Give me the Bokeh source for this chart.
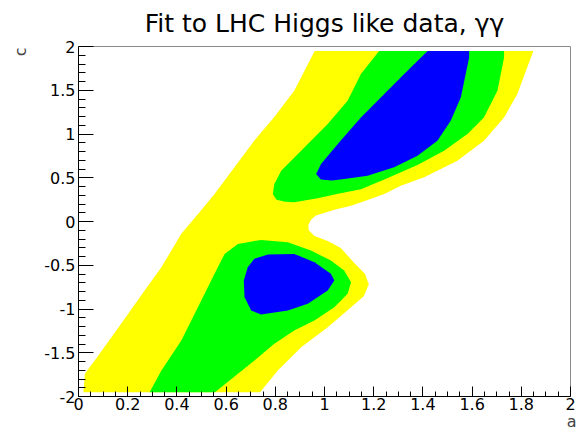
from bokeh.plotting import figure
from bokeh.models import Range1d, Title, FixedTicker
from bokeh.embed import file_html
from bokeh.resources import INLINE

# ---- data (a, c) ----
title_text = "Fit to LHC Higgs like data, \u03b3\u03b3"
x_title = "a"
y_title = "c"

x_ticks = [0.0, 0.2, 0.4, 0.6, 0.8, 1.0, 1.2, 1.4, 1.6, 1.8, 2.0]
x_tick_labels = ["0", "0.2", "0.4", "0.6", "0.8", "1", "1.2", "1.4", "1.6", "1.8", "2"]
y_ticks = [-2.0, -1.5, -1.0, -0.5, 0.0, 0.5, 1.0, 1.5, 2.0]
y_tick_labels = ["-2", "-1.5", "-1", "-0.5", "0", "0.5", "1", "1.5", "2"]

# outer (3 sigma) region - yellow
yellow_a = [0.96, 0.877, 0.796, 0.715, 0.634, 0.553, 0.486, 0.418, 0.337, 0.269, 0.202, 0.134, 0.066, 0.026, 0.02,
            0.738, 0.810, 0.905, 1.013, 1.108, 1.16, 1.18, 1.165, 1.12, 1.065, 1.013, 0.959, 0.936, 0.934,
            0.945, 0.965, 1.04, 1.108, 1.175, 1.243, 1.31, 1.405, 1.540, 1.648, 1.730, 1.784, 1.824, 1.849]
yellow_c = [1.95, 1.494, 1.193, 0.927, 0.619, 0.315, 0.087, -0.141, -0.523, -0.789, -1.055, -1.322, -1.588, -1.74, -1.95,
            -1.95, -1.702, -1.436, -1.208, -0.979, -0.85, -0.72, -0.60, -0.47, -0.30, -0.222, -0.165, -0.10, -0.04,
            0.02, 0.07, 0.135, 0.18, 0.245, 0.315, 0.41, 0.505, 0.695, 0.924, 1.189, 1.457, 1.760, 1.95]

# 2 sigma regions - green
green_up_a = [1.222, 1.148, 1.094, 1.013, 0.905, 0.824, 0.796, 0.790, 0.805, 0.84, 0.877, 0.972, 1.06, 1.148,
              1.243, 1.378, 1.486, 1.581, 1.648, 1.703, 1.730, 1.730]
green_up_c = [1.95, 1.685, 1.380, 1.114, 0.809, 0.581, 0.429, 0.315, 0.25, 0.225, 0.219, 0.265, 0.32, 0.37,
              0.48, 0.645, 0.809, 1.0, 1.189, 1.494, 1.874, 1.95]
green_lo_a = [0.289, 0.337, 0.418, 0.499, 0.553, 0.594, 0.648, 0.742, 0.851, 0.945, 1.026, 1.080, 1.108, 1.094,
              1.040, 0.959, 0.877, 0.796, 0.715, 0.648, 0.580, 0.555]
green_lo_c = [-1.95, -1.702, -1.360, -0.903, -0.598, -0.370, -0.256, -0.210, -0.237, -0.332, -0.446, -0.561, -0.694,
              -0.827, -0.979, -1.131, -1.245, -1.397, -1.588, -1.740, -1.893, -1.95]

# 1 sigma regions - blue
blue_up_a = [1.419, 1.324, 1.243, 1.148, 1.054, 0.986, 0.966, 0.985, 1.03, 1.080, 1.175, 1.283, 1.378, 1.459,
             1.513, 1.554, 1.574, 1.588, 1.588]
blue_up_c = [1.95, 1.685, 1.457, 1.189, 0.886, 0.658, 0.543, 0.48, 0.47, 0.486, 0.524, 0.619, 0.752, 0.924,
             1.152, 1.418, 1.685, 1.874, 1.95]
blue_lo_a = [0.715, 0.770, 0.877, 0.959, 1.026, 1.040, 1.013, 0.932, 0.851, 0.742, 0.702, 0.675, 0.672, 0.688]
blue_lo_c = [-0.427, -0.378, -0.370, -0.466, -0.598, -0.675, -0.789, -0.941, -1.017, -1.063, -1.017, -0.865,
             -0.675, -0.523]

FONT = "DejaVu Sans"

p = figure(width=578, height=436, output_backend="svg", toolbar_location=None,
           x_range=Range1d(0, 2), y_range=Range1d(-2, 2),
           min_border_left=77, min_border_right=8, min_border_top=46, min_border_bottom=40)
p.background_fill_color = "white"
p.border_fill_color = "white"
p.outline_line_color = "#8a8a8a"
p.xgrid.visible = False
p.ygrid.visible = False

p.patches(xs=[yellow_a], ys=[yellow_c], fill_color="#ffff00", line_color=None)
p.patches(xs=[green_up_a, green_lo_a], ys=[green_up_c, green_lo_c], fill_color="#00ff00", line_color=None)
p.patches(xs=[blue_up_a, blue_lo_a], ys=[blue_up_c, blue_lo_c], fill_color="#0000ff", line_color=None)

x_minor = [round(i * 0.05, 2) for i in range(41) if i % 4 != 0]
y_minor = [round(-2 + i * 0.1, 1) for i in range(41) if i % 5 != 0]

p.xaxis.ticker = FixedTicker(ticks=x_ticks, minor_ticks=x_minor)
p.yaxis.ticker = FixedTicker(ticks=y_ticks, minor_ticks=y_minor)
p.xaxis.major_label_overrides = {t: s for t, s in zip(x_ticks, x_tick_labels)}
p.yaxis.major_label_overrides = {t: s for t, s in zip(y_ticks, y_tick_labels)}

for ax in (p.xaxis[0], p.yaxis[0]):
    ax.axis_line_color = "black"
    ax.major_tick_line_color = "black"
    ax.minor_tick_line_color = "black"
    ax.major_tick_out = 0
    ax.minor_tick_out = 0
    ax.major_label_text_font = FONT
    ax.major_label_text_font_size = "16px"
    ax.major_label_text_color = "black"

p.xaxis.major_tick_in = 10
p.xaxis.minor_tick_in = 5
p.yaxis.major_tick_in = 15
p.yaxis.minor_tick_in = 7
p.xaxis.major_label_standoff = 1
p.yaxis.major_label_standoff = 3

p.title.text = title_text
p.title.text_font = FONT
p.title.text_font_size = "25px"
p.title.text_font_style = "normal"
p.title.align = "center"
p.title.vertical_align = "top"
p.title.standoff = 14
p.title.text_color = "black"

p.add_layout(Title(text=y_title, text_font=FONT, text_font_size="16px", text_font_style="normal",
                   align="right", vertical_align="top", standoff=20, offset=1), "left")
p.add_layout(Title(text=x_title, text_font=FONT, text_font_size="16px", text_font_style="normal",
                   align="right", vertical_align="top", standoff=-2, offset=-6), "below")

open("out.html", "w").write(file_html(p, INLINE))
